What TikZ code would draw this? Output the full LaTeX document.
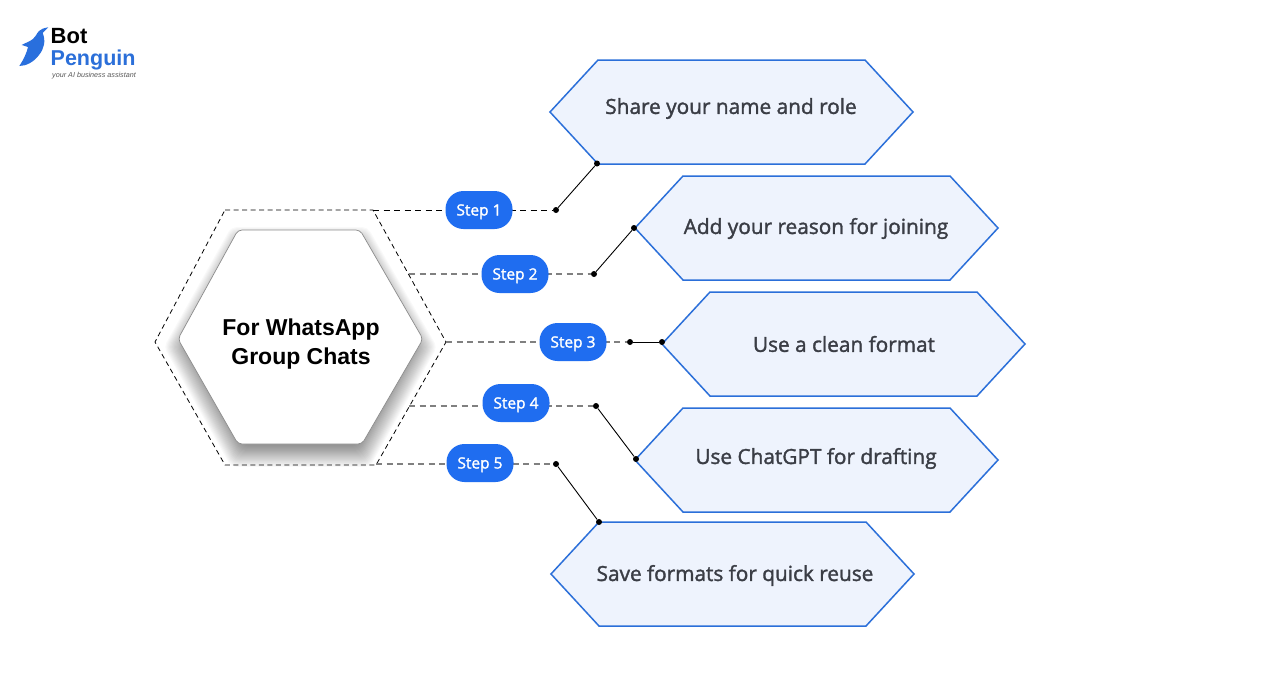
\documentclass[tikz,border=0pt]{standalone}
\usepackage{fontspec}
\setmainfont{Liberation Sans}
\newfontfamily\labelfont[FakeBold=1.6]{Open Sans}
\usetikzlibrary{calc}
\definecolor{hexblue}{HTML}{2B6FD9}
\definecolor{hexfill}{HTML}{EEF3FD}
\definecolor{pillblue}{HTML}{1F6DF0}
\definecolor{labelgrey}{HTML}{3A3D45}
\definecolor{dashgrey}{HTML}{808080}
\tikzset{
  hexbox/.style={line width=1.5pt,draw=hexblue,fill=hexfill},
  hexlabel/.style={text=labelgrey,yshift=-1.5pt,font=\labelfont\fontsize{20.8}{23}\selectfont},
  stepbox/.style={fill=pillblue,text=white,rounded corners=18pt,minimum width=67pt,minimum height=38pt,inner sep=0pt,text height=11pt,text depth=0pt,font=\labelfont\fontsize{15.5}{17}\selectfont},
  dotmark/.style={circle,fill=black,inner sep=0pt,minimum size=6pt},
  blackdash/.style={black,line width=.9pt,dash pattern=on 6pt off 4.5pt},
  greydash/.style={dashgrey,line width=1.3pt,dash pattern=on 6pt off 4.5pt},
}
\begin{document}
\begin{tikzpicture}[x=1pt,y=-1pt]
  \useasboundingbox (0,0) rectangle (1288,686);
  \fill[white] (0,0) rectangle (1288,686);

  % logo
  \fill[hexblue!85!pillblue] (48.3,27.3) .. controls (44,28) and (41,29) .. (39,31) .. controls (36,34) and (36,37) .. (33,39) .. controls (29,42) and (25,43) .. (21.7,45) .. controls (24,46) and (26,46) .. (28,47) .. controls (27,52) and (24,59) .. (19.3,66) .. controls (26,66) and (34,62) .. (39,55) .. controls (44,49) and (46,41) .. (42.7,33) -- cycle;
  \node[anchor=west,inner sep=0pt,font=\bfseries\fontsize{22}{24}\selectfont] (bot) at (50.5,36) {Bot};
  \node[anchor=west,inner sep=0pt,text=hexblue,font=\bfseries\fontsize{21.5}{24}\selectfont] (penguin) at (50.5,59.5) {Penguin};
  \node[anchor=west,inner sep=0pt,text=black!65,font=\itshape\fontsize{7.2}{8}\selectfont] (tagline) at (52,76) {your AI business assistant};

  % middle
  \draw[line width=.8pt,dash pattern=on 5pt off 3.5pt] (225,210) -- (373,210) -- (446,342) -- (376,465) -- (225,465) -- (155,342) -- cycle;
  \foreach \s in {0.92,0.93,...,1.12} {
    \fill[black,opacity=.022,rounded corners=5pt,shift={(300.5,347)},scale=\s] (-62,-107) -- (60,-107) -- (122,0) -- (62,107) -- (-62,107) -- (-122,0) -- cycle;
  }
  \draw[line width=.7pt,black!45,fill=white,rounded corners=4pt] (238,230) -- (360,230) -- (423,339) -- (362,444) -- (238,444) -- (178,339) -- cycle;
  \node[align=center,font=\bfseries\fontsize{23}{29}\selectfont] (hub) at (301,344) {For WhatsApp\\Group Chats};

  % boxes
  \foreach \x/\y/\tx/\ty/\i/\t in {731.5/112/731/107/1/Share your name and role,816.5/228/816/227/2/Add your reason for joining,843.5/344/844/342.5/3/Use a clean format,816.5/460/816/457/4/Use ChatGPT for drafting,732.5/574/735/574/5/Save formats for quick reuse} {
    \draw[hexbox] (\x-181.5,\y) -- (\x-133.5,\y-52) -- (\x+133.5,\y-52) -- (\x+181.5,\y) -- (\x+133.5,\y+52) -- (\x-133.5,\y+52) -- cycle;
    \node[hexlabel] (box\i) at (\tx,\ty) {\t};
  }

  % steps
  \foreach \gx/\gy/\px/\py/\ax/\ay/\bx/\by/\c/\i in {373/210/479/210/556/210/597/163.5/blackdash/1,409/274/515/274/594/274/634/228/greydash/2,446/342/573/342/630/342/662/342/greydash/3,409/406/516/403/596/406/636/459/greydash/4,376/464/480/463/556/464/599/522/greydash/5} {
    \coordinate (g\i) at (\gx,\gy);
    \node[dotmark] (a\i) at (\ax,\ay) {};
    \node[dotmark] (b\i) at (\bx,\by) {};
    \draw[\c] (g\i) -- (a\i);
    \draw[line width=.9pt,black] (a\i) -- (b\i);
    \node[stepbox] (step\i) at (\px,\py) {Step \i};
  }
\end{tikzpicture}
\end{document}
